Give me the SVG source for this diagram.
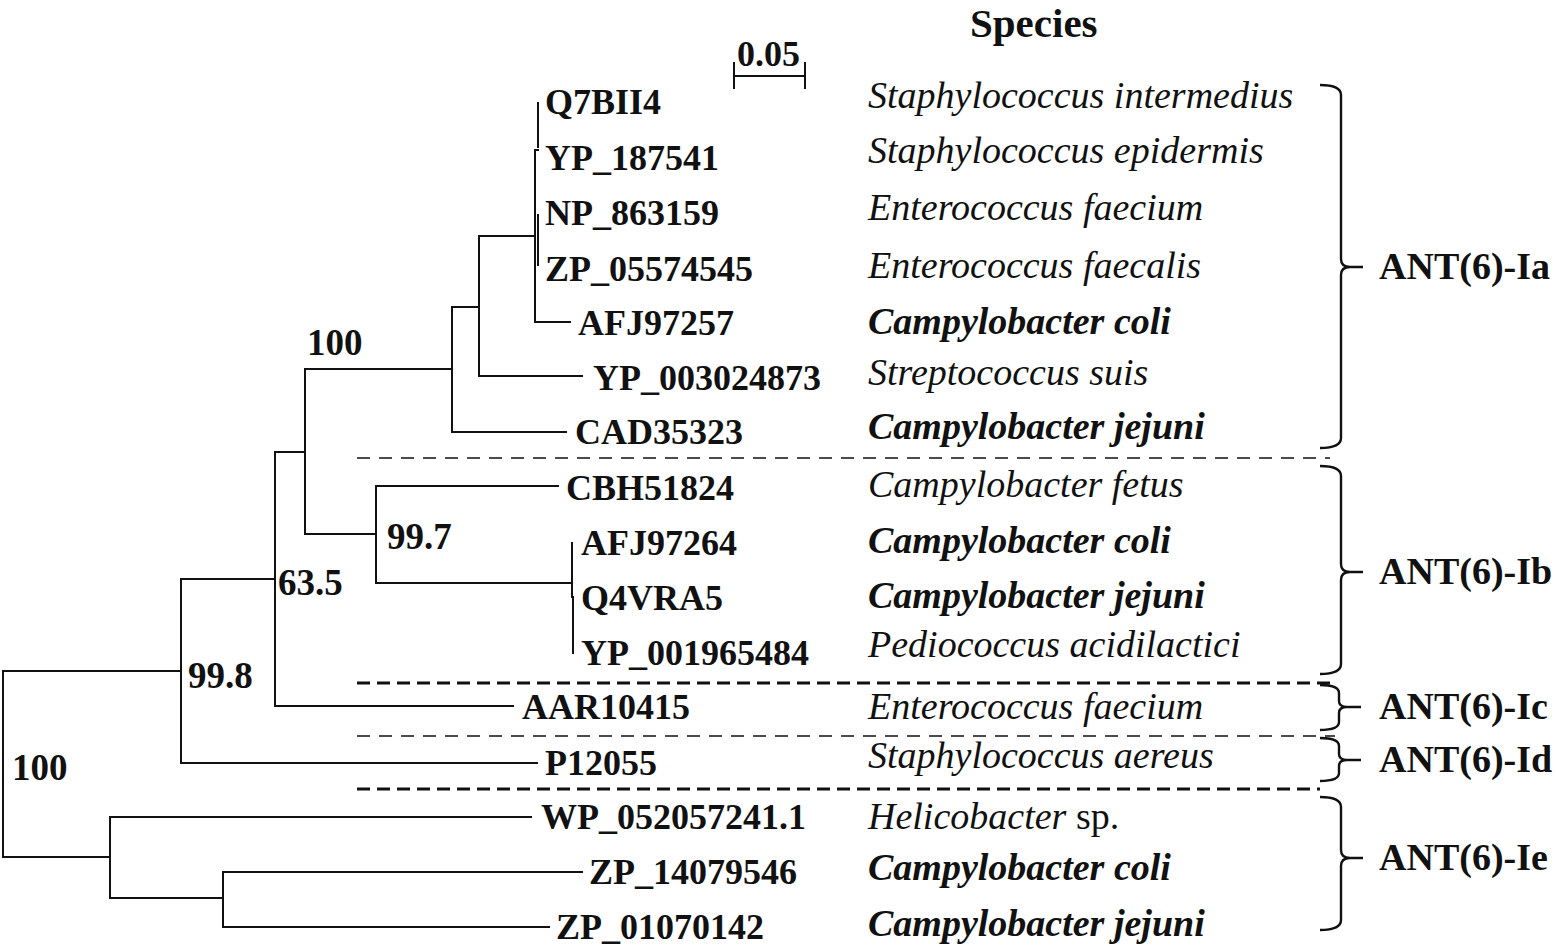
<svg xmlns="http://www.w3.org/2000/svg" width="1556" height="949" viewBox="0 0 1556 949">
<style>
.bg{fill:#fff}
.ln{fill:none;stroke:#111;stroke-width:2;stroke-linecap:square}
.br{fill:none;stroke:#111;stroke-width:2.4}
.d1{fill:none;stroke:#111;stroke-width:1.6;stroke-dasharray:13 9}
.d2{fill:none;stroke:#111;stroke-width:3;stroke-dasharray:13 7}
.id{font-family:"Liberation Serif",serif;font-weight:bold;font-size:36px;fill:#111}
.bs{font-family:"Liberation Serif",serif;font-weight:bold;font-size:37px;fill:#111}
.sp{font-family:"Liberation Serif",serif;font-style:italic;font-size:38px;fill:#111}
.spb{font-family:"Liberation Serif",serif;font-style:italic;font-weight:bold;font-size:38px;fill:#111}
.cl{font-family:"Liberation Serif",serif;font-weight:bold;font-size:38px;fill:#111}
.hd{font-family:"Liberation Serif",serif;font-weight:bold;font-size:41px;fill:#111}
</style>
<rect class="bg" x="0" y="0" width="1556" height="949"/>
<g id="header">
<text class="hd" x="970" y="37">Species</text>
</g>
<g id="scalebar">
<text class="id" x="737" y="66">0.05</text>
<path class="ln" d="M734 76 H805 M734 63 V88 M805 63 V88"/>
</g>
<g id="connectors">
<path class="ln" d="M3 671 V857 M3 671 H181 M3 857 H110"/>
<path class="ln" d="M181 579 V763 M181 579 H275 M181 763 H537"/>
<path class="ln" d="M275 452 V706 M275 452 H305 M275 706 H513"/>
<path class="ln" d="M305 369 V534 M305 369 H452 M305 534 H376"/>
<path class="ln" d="M376 486 V583 M376 486 H558 M376 583 H572"/>
<path class="ln" d="M572 543 V597 M573 597 V653"/>
<path class="ln" d="M573 600 V622" stroke-width="3"/>
<path class="ln" d="M452 307 V432 M452 307 H479 M452 432 H566"/>
<path class="ln" d="M479 236 V376 M479 236 H535 M479 376 H582"/>
<path class="ln" d="M535 150 V322 M535 322 H570 M535 150 H538 M538 103 V147 M538 215 V265"/>
<path class="ln" d="M110 817 V898 M110 817 H531 M110 898 H223"/>
<path class="ln" d="M223 872 V927 M223 872 H582 M223 927 H549"/>
</g>
<g id="separators">
<path class="d1" d="M357 458 H1330"/>
<path class="d2" d="M357 683 H1335"/>
<path class="d1" d="M357 736 H1335"/>
<path class="d2" d="M357 789 H1320"/>
</g>
<g id="bootstrap">
<text class="bs" x="307" y="355">100</text>
<text class="bs" x="387" y="549">99.7</text>
<text class="bs" x="278" y="595">63.5</text>
<text class="bs" x="188" y="688">99.8</text>
<text class="bs" x="12" y="780">100</text>
</g>
<g id="leaf-Q7BII4"><text class="id" x="545" y="114">Q7BII4</text><text class="sp" x="868" y="108">Staphylococcus intermedius</text></g>
<g id="leaf-YP_187541"><text class="id" x="545" y="170">YP_187541</text><text class="sp" x="868" y="163">Staphylococcus epidermis</text></g>
<g id="leaf-NP_863159"><text class="id" x="545" y="225">NP_863159</text><text class="sp" x="868" y="220">Enterococcus faecium</text></g>
<g id="leaf-ZP_05574545"><text class="id" x="545" y="281">ZP_05574545</text><text class="sp" x="868" y="278">Enterococcus faecalis</text></g>
<g id="leaf-AFJ97257"><text class="id" x="578" y="335">AFJ97257</text><text class="spb" x="868" y="334">Campylobacter coli</text></g>
<g id="leaf-YP_003024873"><text class="id" x="593" y="390">YP_003024873</text><text class="sp" x="868" y="385">Streptococcus suis</text></g>
<g id="leaf-CAD35323"><text class="id" x="575" y="444">CAD35323</text><text class="spb" x="868" y="439">Campylobacter jejuni</text></g>
<g id="leaf-CBH51824"><text class="id" x="566" y="500">CBH51824</text><text class="sp" x="868" y="497">Campylobacter fetus</text></g>
<g id="leaf-AFJ97264"><text class="id" x="581" y="555">AFJ97264</text><text class="spb" x="868" y="553">Campylobacter coli</text></g>
<g id="leaf-Q4VRA5"><text class="id" x="581" y="610">Q4VRA5</text><text class="spb" x="868" y="608">Campylobacter jejuni</text></g>
<g id="leaf-YP_001965484"><text class="id" x="581" y="665">YP_001965484</text><text class="sp" x="868" y="657">Pediococcus acidilactici</text></g>
<g id="leaf-AAR10415"><text class="id" x="522" y="719">AAR10415</text><text class="sp" x="868" y="719">Enterococcus faecium</text></g>
<g id="leaf-P12055"><text class="id" x="545" y="775">P12055</text><text class="sp" x="868" y="768">Staphylococcus aereus</text></g>
<g id="leaf-WP_052057241.1"><text class="id" x="541" y="829">WP_052057241.1</text><text class="sp" x="868" y="829">Helicobacter<tspan font-style="normal"> sp.</tspan></text></g>
<g id="leaf-ZP_14079546"><text class="id" x="589" y="884">ZP_14079546</text><text class="spb" x="868" y="880">Campylobacter coli</text></g>
<g id="leaf-ZP_01070142"><text class="id" x="556" y="939">ZP_01070142</text><text class="spb" x="868" y="936">Campylobacter jejuni</text></g>
<g id="clade-Ia">
<path class="br" d="M1320 85 Q1341 85 1341 95 L1341 259 Q1341 267 1350 267 L1363 267 M1350 267 Q1341 267 1341 275 L1341 438 Q1341 448 1320 448"/>
<text class="cl" x="1379" y="279">ANT(6)-Ia</text>
</g>
<g id="clade-Ib">
<path class="br" d="M1320 466 Q1341 466 1341 476 L1341 564 Q1341 572 1350 572 L1363 572 M1350 572 Q1341 572 1341 580 L1341 664 Q1341 674 1320 674"/>
<text class="cl" x="1379" y="584">ANT(6)-Ib</text>
</g>
<g id="clade-Ic">
<path class="br" d="M1320 685 Q1339 685 1339 693 L1339 701 Q1339 707 1347 707 L1361 707 M1347 707 Q1339 707 1339 713 L1339 722 Q1339 730 1320 730"/>
<text class="cl" x="1379" y="719">ANT(6)-Ic</text>
</g>
<g id="clade-Id">
<path class="br" d="M1320 738 Q1339 738 1339 746 L1339 754 Q1339 760 1347 760 L1361 760 M1347 760 Q1339 760 1339 766 L1339 773 Q1339 781 1320 781"/>
<text class="cl" x="1379" y="772">ANT(6)-Id</text>
</g>
<g id="clade-Ie">
<path class="br" d="M1320 797 Q1341 797 1341 807 L1341 850 Q1341 858 1350 858 L1363 858 M1350 858 Q1341 858 1341 866 L1341 920 Q1341 930 1320 930"/>
<text class="cl" x="1379" y="870">ANT(6)-Ie</text>
</g>
</svg>
